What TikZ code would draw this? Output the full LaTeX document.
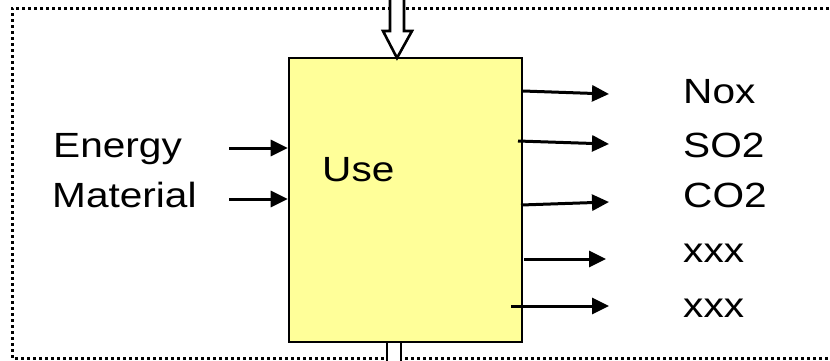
\documentclass[tikz,border=0pt]{standalone}
\usepackage{fontspec}
\setmainfont{Liberation Sans}
\usetikzlibrary{arrows.meta}
\newcommand{\lbltxt}[1]{\scalebox{1.16}[1]{#1}}
\tikzset{
  lbl/.style={anchor=base west, inner sep=0pt, font=\fontsize{35}{40}\selectfont},
  flow/.style={line width=3pt, -{Triangle[length=17pt,width=16pt]}},
  hollow/.style={line width=2.6pt, draw=black, fill=white, line join=miter},
  border/.style={line width=3pt, dash pattern=on 3pt off 3pt},
}
\begin{document}
\begin{tikzpicture}[x=1pt,y=-1pt]
\useasboundingbox (0,0) rectangle (830,360);
\clip (0,0) rectangle (830,360);
\fill[white] (0,0) rectangle (830,360);
% dotted system boundary
\draw[border] (835,8) -- (12,8) -- (12,358) -- (835,358);
% process box
\node[draw, line width=2.6pt, fill={rgb,255:red,255;green,255;blue,153}, minimum width=233pt, minimum height=284pt, inner sep=0pt] (box) at (405.5,200) {};
\node[lbl] (use) at (322,181) {\lbltxt{Use}};
% top hollow arrow
\coordinate (toptip) at (397,58);
\draw[hollow] (390,-10) -- (390,31) -- (383,31) -- (toptip) -- (412,31) -- (404,31) -- (404,-10);
% bottom hollow arrow
\coordinate (botstart) at (394,342);
\fill[white] ([xshift=-7pt,yshift=-1.5pt]botstart) rectangle ([xshift=7pt,yshift=-30pt]botstart);
\draw[hollow] ([xshift=-7pt,yshift=1pt]botstart) -- ([xshift=-7pt,yshift=-30pt]botstart) ([xshift=7pt,yshift=-30pt]botstart) -- ([xshift=7pt,yshift=1pt]botstart);
% inputs
\node[lbl] (energy) at (53,157) {\lbltxt{Energy}};
\node[lbl] (material) at (52,207) {\lbltxt{Material}};
\coordinate (in1) at (229,148);
\coordinate (in2) at (229,199);
\draw[flow] (in1) -- (box.west |- in1);
\draw[flow] (in2) -- (box.west |- in2);
% outputs
\node[lbl] (nox) at (683,103) {\lbltxt{Nox}};
\node[lbl] (so2) at (683,157) {\lbltxt{SO2}};
\node[lbl] (co2) at (683,207) {\lbltxt{CO2}};
\node[lbl] (x1) at (683,262) {\lbltxt{xxx}};
\node[lbl] (x2) at (683,317) {\lbltxt{xxx}};
\coordinate (o1s) at (523,91);  \coordinate (o1e) at (609,94);
\coordinate (o2s) at (518,141); \coordinate (o2e) at (609,144);
\coordinate (o3s) at (521,205); \coordinate (o3e) at (609,202);
\coordinate (o4s) at (524,259); \coordinate (o4e) at (606,259);
\coordinate (o5s) at (511,306); \coordinate (o5e) at (609,306);
\draw[flow] (o1s) -- (o1e);
\draw[flow] (o2s) -- (o2e);
\draw[flow] (o3s) -- (o3e);
\draw[flow] (o4s) -- (o4e);
\draw[flow] (o5s) -- (o5e);
\end{tikzpicture}
\end{document}
